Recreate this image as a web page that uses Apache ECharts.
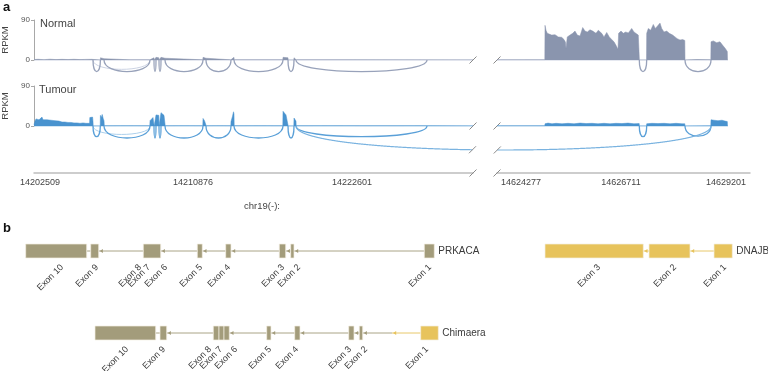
<!DOCTYPE html>
<html><head><meta charset="utf-8">
<script src="https://cdn.jsdelivr.net/npm/echarts@6/dist/echarts.min.js"></script>
<style>html,body{margin:0;padding:0;background:#fff}#chart{width:768px;height:371px}</style>
</head><body><div id="chart"></div>
<script>
// ================= DATA =================
// Panel a: track layout positions (two genomic windows separated by an axis break)
const trackRegions = [[34, 473], [497, 728]];
const breakPos = [473, 497];
const tickPositionsLeft = [40, 193, 352];
const tickLabelsLeft = ['14202509', '14210876', '14222601'];
const tickPositionsRight = [521, 621, 726];
const tickLabelsRight = ['14624277', '14626711', '14629201'];
const yTicks = [0, 90];

// coverage (position, RPKM)
const normalCovLeft = [[34,1],[38,1.6],[44,0.8],[50,1.8],[56,0.9],[62,1.5],[68,1],[74,1.6],[80,0.9],[86,1.4],[91.8,1.5],[92,4],[93,3],[93.2,0],
  [100.3,0],[100.5,5],[102,6],[104,3],[104.2,0.4],[130,0.4],[149.8,0.4],[150,4],[154,5],[154.2,0],[155.8,0],[156,6],[158.8,5],[159,0],[160.8,0],[161,6],[165,4],[165.2,0.4],
  [202.8,0.4],[203,6],[206,4],[206.2,0.4],[230.8,0.4],[231,4],[234,6],[234.2,0.4],[282.8,0.4],[283,6],[288,5],[288.2,0],[293.8,0],[294,5],[296,4],[296.2,0.4],[350,0.4],[473,0.4]];
const normalCovRight = [[497,0.3],[544.8,0.4],[545,78],[546,67],[547.3,60],[549.3,61],[551.7,56],[555,57],[558.3,52],[561.7,51],[564,46],[565.5,40],[566,26],[566.7,40],[567.3,52],
  [570,56],[572.7,60],[575,65],[577.3,56],[580,54],[582.7,73],[585,65],[587.3,63],[590,68],[592.7,65],[596,60],[598.3,67],[601.7,60],[604,52],[606.7,62],[609.3,52],
  [611.7,46],[614,41],[616,33],[618,24],[618.6,60],[621,65],[623.3,60],[625.7,63],[628.3,61],[631.7,71],[634,63],[636,60],[638.3,56],[639.2,55],[639.4,0],
  [646.5,0],[646.7,60],[648.3,71],[650.7,67],[653.3,80],[655.3,71],[657.3,76],[660,83],[661.7,71],[664,63],[666.7,65],[669.3,60],[672.7,56],[675,52],[677.3,48],[680,45],[682.7,46],[684.8,44],[685,0],
  [697,1],[710.8,0.5],[711,41],[713.3,43],[716.7,39],[720,41],[722.7,33],[725.3,26],[727.3,19],[727.5,0]];
const tumourCovLeft = [[34,3],[35,11],[36,16],[37,13],[38,19],[39,14],[40,18],[41,15],[42,20],[43,14],[44,17],[45,13],[47,14],[49,12],[51,13],[53,11],[55,12],[57,10],[59,11],
  [62,9],[65,9],[68,8],[71,8],[74,7],[77,7],[80,6],[83,7],[86,6],[89.6,6],[89.8,19],[90.8,22],[91.8,17],[92.6,20],[93,10],[93.2,0],
  [100.2,0],[100.4,24],[101.3,19],[102.2,26],[103.2,17],[104,12],[104.3,0.5],[127,0.6],[149.8,0.5],
  [150,12],[151.5,14],[153,19],[154,22],[154.2,0],[155.8,0],[156,25],[157.5,28],[158.8,24],[159,0],[160.8,0],[161,30],[162.5,27],[164,24],[165,20],[165.2,0.5],
  [185,0.6],[202.8,0.5],[203,17],[204.5,12],[206,8],[206.2,0.5],[220,0.6],[230.8,0.5],[231,10],[232.5,22],[233.5,32],[234,27],[234.2,0.5],
  [260,0.6],[282.8,0.5],[283,33],[284.5,29],[286,25],[288,21],[288.2,0],[293.8,0],[294,18],[295,14],[296,11],[296.2,0.5],[330,0.6],[380,0.5],[427,0.6],[473,0.5]];
const tumourCovRight = [[497,0.3],[544.8,0.4],[545,5],[548,6.5],[552,5],[556,6],[562,5],[568,6],[574,5],[580,6.5],[586,5.5],[592,6],[598,5],[604,6],[610,5],[616,6],[622,5.5],[628,6.5],[634,5],[639.2,5.5],[639.4,0],
  [646.5,0],[646.7,5],[652,6],[658,5.5],[664,6],[670,5],[676,6],[682,5],[684.8,5],[685,0],[710.8,0.3],[711,14],[714,13],[718,12],[722,13],[725,11],[727.3,10],[727.5,0]];

// splice junctions: [start, end, arc depth (RPKM units below baseline)]
const normalJunctions = [[93,100.4,26],[104,150,26],[154,156,26],[159,161,26],[165,203,26],[206,231,26],[234,283,26],[288,294,26],[296,427,26],[639.3,646.7,26],[685,711,26]];
const normalMinorJunctions = [[93,150,21]];
const tumourJunctions = [[93,100.3,24],[104,150,27],[154,156,27],[159,161,27],[165,203,27],[206,231,27],[234,283,27],[288,294,27],[296,427,24],[639.3,646.7,24],[685,711,23]];
const tumourMinorJunctions = [[93,150,19]];
const tumourFusionJunctions = [[296,711,54]];

// Panel b: gene models (layout position)
const prkacaExons = [[25.7,86.7],[90.7,98.7],[143.3,160.7],[197.3,202.3],[225.7,231.0],[279.3,285.7],[290.7,294.0],[424.3,434.3]];
const prkacaLabelNames = ['Exon 10','Exon 9','Exon 8','Exon 7','Exon 6','Exon 5','Exon 4','Exon 3','Exon 2','Exon 1'];
const prkacaLabelEnds = [65,100,143,152,169,204,232,286,302,433];
const dnajb1Exons = [[545,643.3],[649,690],[714,732.3]];
const dnajb1LabelNames = ['Exon 3','Exon 2','Exon 1'];
const dnajb1LabelEnds = [602,678,728];
const chimaeraExons = [[95,155.7],[160,166.7],[213.3,219],[219,224],[224,229.3],[266.7,271],[294.7,300],[348.7,354],[359.3,362.7],[420.7,438.3]];
const chimaeraExonSource = ['PRKACA','PRKACA','PRKACA','PRKACA','PRKACA','PRKACA','PRKACA','PRKACA','PRKACA','DNAJB1'];
const chimaeraLabelNames = ['Exon 10','Exon 9','Exon 8','Exon 7','Exon 6','Exon 5','Exon 4','Exon 3','Exon 2','Exon 1'];
const chimaeraLabelEnds = [130,167,213,224,239,273,300,353,369,430];
const chimaeraBreakpoint = 392;
const geneRows = {PRKACA: 1, DNAJB1: 1, Chimaera: 3};

// ================= STYLE =================
const FONT = "'Liberation Sans', Arial, Helvetica, sans-serif";
const C = {
  normal: '#8a95ae', normalArc: '#98a2ba', normalBase: '#cbd2e2', normalMinor: '#ccd3e3',
  tumour: '#4993cf', tumourArc: '#5aa0d8', tumourBase: '#a9cdea', tumourMinor: '#acd0ec',
  PRKACA: '#a39c7b', PRKACAintron: '#aaa486', DNAJB1: '#e7c35c', DNAJB1intron: '#e8c86a',
  slash: '#8a8a8a', text: '#3a3a3a'
};

function slash(x, y) {
  return {type: 'line', shape: {x1: x - 3.5, y1: y + 3.5, x2: x + 3.5, y2: y - 3.5}, style: {stroke: C.slash, lineWidth: 1}};
}

function baselineSeries(gi, color) {
  return {type: 'custom', xAxisIndex: gi, yAxisIndex: gi, clip: false, silent: true, z: 1, data: trackRegions,
    renderItem(params, api) {
      const a = api.coord([api.value(0), 0]), b = api.coord([api.value(1), 0]);
      const m = params.dataIndex === 0 ? b : a;
      return {type: 'group', children: [
        {type: 'line', shape: {x1: a[0], y1: a[1], x2: b[0], y2: b[1]}, style: {stroke: color, lineWidth: 1}},
        slash(m[0], m[1])
      ]};
    }};
}

function coverageSeries(gi, data, color) {
  return {type: 'line', xAxisIndex: gi, yAxisIndex: gi, data: data, symbol: 'none', silent: true, z: 2,
    lineStyle: {width: 0.5, color: color}, areaStyle: {color: color, opacity: 1}};
}

function arcSeries(gi, data, color, width) {
  return {type: 'custom', xAxisIndex: gi, yAxisIndex: gi, clip: false, silent: true, z: 3, data: data,
    renderItem(params, api) {
      const x1 = api.value(0), x2 = api.value(1), d = api.value(2);
      const p0 = api.coord([x1, 0]), p3 = api.coord([x2, 0]);
      const c1 = api.coord([x1, -d / 0.75]), c2 = api.coord([x2, -d / 0.75]);
      return {type: 'bezierCurve', shape: {x1: p0[0], y1: p0[1], x2: p3[0], y2: p3[1], cpx1: c1[0], cpy1: c1[1], cpx2: c2[0], cpy2: c2[1]},
        style: {stroke: color, fill: 'none', lineWidth: width}};
    }};
}

function fusionSeries(gi, data, color, width) {
  return {type: 'custom', xAxisIndex: gi, yAxisIndex: gi, clip: false, silent: true, z: 3, data: data,
    renderItem(params, api) {
      const x1 = api.value(0), x2 = api.value(1), d = api.value(2);
      const p0 = api.coord([x1, 0]), p3 = api.coord([x2, 0]);
      const cy = api.coord([x1, -d / 0.75])[1];
      const gL = api.coord([breakPos[0], 0])[0], gR = api.coord([breakPos[1], 0])[0];
      const N = 900, segs = [[]], marks = [];
      let inGap = false, prev = null;
      for (let i = 0; i <= N; i++) {
        const t = i / N, mt = 1 - t;
        const x = mt * mt * mt * p0[0] + 3 * mt * mt * t * p0[0] + 3 * mt * t * t * p3[0] + t * t * t * p3[0];
        const y = p0[1] * (mt * mt * mt + t * t * t) + cy * 3 * mt * t;
        const g = x > gL && x < gR;
        if (g && !inGap) { if (prev) marks.push(prev); inGap = true; segs.push([]); }
        else if (!g && inGap) { marks.push([x, y]); inGap = false; }
        if (!g) segs[segs.length - 1].push([x, y]);
        prev = [x, y];
      }
      const children = segs.filter(s => s.length > 1).map(s => ({type: 'polyline', shape: {points: s}, style: {stroke: color, fill: 'none', lineWidth: width}}));
      marks.forEach(m => children.push(slash(m[0], m[1])));
      return {type: 'group', children};
    }};
}

function axisSlashSeries(gi, pos) {
  return {type: 'custom', xAxisIndex: gi, yAxisIndex: gi, clip: false, silent: true, z: 5, data: [[pos, 0]],
    renderItem(params, api) { const p = api.coord([api.value(0), 0]); return slash(p[0], p[1]); }};
}

// ---- gene models ----
function buildGene(name, exons, sources, labelNames, labelEnds, breakpoint) {
  const row = geneRows[name];
  const exonData = exons.map((e, i) => [e[0], e[1], row, sources[i]]);
  const introns = [];
  for (let i = 0; i < exons.length - 1; i++) {
    const s = exons[i][1], e = exons[i + 1][0], sl = sources[i], sr = sources[i + 1];
    if (sl !== sr && breakpoint != null) {
      introns.push([s, breakpoint, row, sl]);
      introns.push([breakpoint, e, row, sr]);
    } else introns.push([s, e, row, sl]);
  }
  const labels = labelNames.map((n, i) => [labelEnds[i], row, n]);
  const last = exons[exons.length - 1];
  const title = [[last[1], row, name]];
  return {exonData, introns, labels, title};
}
const genes = [
  buildGene('PRKACA', prkacaExons, prkacaExons.map(() => 'PRKACA'), prkacaLabelNames, prkacaLabelEnds, null),
  buildGene('DNAJB1', dnajb1Exons, dnajb1Exons.map(() => 'DNAJB1'), dnajb1LabelNames, dnajb1LabelEnds, null),
  buildGene('Chimaera', chimaeraExons, chimaeraExonSource, chimaeraLabelNames, chimaeraLabelEnds, chimaeraBreakpoint)
];
const allExons = [].concat(...genes.map(g => g.exonData));
const allIntrons = [].concat(...genes.map(g => g.introns));
const allLabels = [].concat(...genes.map(g => g.labels));
const allTitles = [].concat(...genes.map(g => g.title));

const GI = 4;
const geneSeries = [
  {type: 'custom', xAxisIndex: GI, yAxisIndex: GI, clip: false, silent: true, z: 2, data: allIntrons,
    renderItem(params, api) {
      const it = allIntrons[params.dataIndex];
      const a = api.coord([it[0], it[2]]), b = api.coord([it[1], it[2]]);
      const col = C[it[3] + 'intron'];
      const ch = [{type: 'line', shape: {x1: a[0], y1: a[1], x2: b[0], y2: b[1]}, style: {stroke: col, lineWidth: 1}}];
      if (b[0] - a[0] > 4.5) {
        const x = a[0] + 1, y = a[1];
        ch.push({type: 'polygon', shape: {points: [[x, y], [x + 3.2, y - 2], [x + 3.2, y + 2]]}, style: {fill: C[it[3]]}});
      }
      return {type: 'group', children: ch};
    }},
  {type: 'custom', xAxisIndex: GI, yAxisIndex: GI, clip: false, silent: true, z: 3, data: allExons,
    renderItem(params, api) {
      const ex = allExons[params.dataIndex];
      const a = api.coord([ex[0], ex[2]]), b = api.coord([ex[1], ex[2]]);
      return {type: 'rect', shape: {x: a[0], y: a[1] - 7, width: b[0] - a[0], height: 14},
        style: {fill: C[ex[3]], stroke: '#f3efe2', lineWidth: 0.7}};
    }},
  {type: 'custom', xAxisIndex: GI, yAxisIndex: GI, clip: false, silent: true, z: 4, data: allLabels,
    renderItem(params, api) {
      const lb = allLabels[params.dataIndex];
      const p = api.coord([lb[0], lb[1]]);
      return {type: 'text', x: p[0] - 3, y: p[1] + 15, rotation: Math.PI / 4,
        style: {text: lb[2], fill: C.text, font: '9px ' + FONT, align: 'right', verticalAlign: 'middle'}};
    }},
  {type: 'custom', xAxisIndex: GI, yAxisIndex: GI, clip: false, silent: true, z: 4, data: allTitles,
    renderItem(params, api) {
      const t = allTitles[params.dataIndex];
      const p = api.coord([t[0], t[1]]);
      return {type: 'text', x: p[0] + 4, y: p[1],
        style: {text: t[2], fill: C.text, font: '10px ' + FONT, align: 'left', verticalAlign: 'middle'}};
    }}
];

// ================= CHART =================
const yTrackAxis = (gi) => ({gridIndex: gi, type: 'value', min: yTicks[0], max: yTicks[1], interval: yTicks[1] - yTicks[0],
  axisLine: {show: true, lineStyle: {color: '#a8a8a8', width: 1}},
  axisTick: {show: true, length: 3, lineStyle: {color: '#a8a8a8'}},
  axisLabel: {fontSize: 8, color: '#555', margin: 4, fontFamily: FONT},
  splitLine: {show: false},
  name: 'RPKM', nameLocation: 'middle', nameGap: 19, nameRotate: 90,
  nameTextStyle: {fontSize: 9.5, color: '#444', fontFamily: FONT}});
const hiddenY = (gi, min, max, inverse) => ({gridIndex: gi, type: 'value', min, max, inverse: !!inverse, show: false, splitLine: {show: false}});
const bottomAxis = (gi, min, max, pos, labels) => ({gridIndex: gi, type: 'value', min, max, position: 'bottom',
  axisLine: {show: true, lineStyle: {color: '#bdbdbd', width: 1.5}}, axisTick: {show: false}, splitLine: {show: false},
  axisLabel: {customValues: pos, formatter: v => labels[pos.indexOf(v)] || '', fontSize: 9, color: '#444', margin: 5, fontFamily: FONT,
    showMinLabel: true, showMaxLabel: true}});

const option = {
  animation: false,
  grid: [
    {left: 34, right: 18, top: 20, height: 40, outerBoundsMode: 'none'},
    {left: 34, right: 18, top: 86, height: 40, outerBoundsMode: 'none'},
    {left: 34, width: 439, top: 163, height: 10, outerBoundsMode: 'none'},
    {left: 497, right: 18, top: 163, height: 10, outerBoundsMode: 'none'},
    {left: 0, right: 0, top: 210, height: 164, outerBoundsMode: 'none'}
  ],
  xAxis: [
    {gridIndex: 0, type: 'value', min: 34, max: 750, show: false, splitLine: {show: false}},
    {gridIndex: 1, type: 'value', min: 34, max: 750, show: false, splitLine: {show: false}},
    bottomAxis(2, trackRegions[0][0], breakPos[0], tickPositionsLeft, tickLabelsLeft),
    bottomAxis(3, breakPos[1], 750, tickPositionsRight, tickLabelsRight),
    {gridIndex: 4, type: 'value', min: 0, max: 768, show: false, splitLine: {show: false}}
  ],
  yAxis: [yTrackAxis(0), yTrackAxis(1), hiddenY(2, 0, 1), hiddenY(3, 0, 1), hiddenY(4, 0, 4, true)],
  graphic: [
    {type: 'text', left: 3, top: 1, style: {text: 'a', font: 'bold 13px ' + FONT, fill: '#111'}},
    {type: 'text', left: 3, top: 222, style: {text: 'b', font: 'bold 13px ' + FONT, fill: '#111'}},
    {type: 'text', x: 40, y: 24, style: {text: 'Normal', font: '11px ' + FONT, fill: '#444', verticalAlign: 'middle'}},
    {type: 'text', x: 39, y: 90, style: {text: 'Tumour', font: '11px ' + FONT, fill: '#444', verticalAlign: 'middle'}},
    {type: 'text', x: 262, y: 206, style: {text: 'chr19(-):', font: '9.5px ' + FONT, fill: '#444', align: 'center', verticalAlign: 'middle'}}
  ],
  series: [
    baselineSeries(0, C.normalBase),
    coverageSeries(0, normalCovLeft, C.normal),
    coverageSeries(0, normalCovRight, C.normal),
    arcSeries(0, normalMinorJunctions, C.normalMinor, 1),
    arcSeries(0, normalJunctions, C.normalArc, 1.3),
    baselineSeries(1, C.tumourBase),
    coverageSeries(1, tumourCovLeft, C.tumour),
    coverageSeries(1, tumourCovRight, C.tumour),
    arcSeries(1, tumourMinorJunctions, C.tumourMinor, 1),
    arcSeries(1, tumourJunctions, C.tumourArc, 1.3),
    fusionSeries(1, tumourFusionJunctions, '#7ab3e0', 1.2),
    axisSlashSeries(2, breakPos[0]),
    axisSlashSeries(3, breakPos[1]),
    ...geneSeries
  ]
};
const chart = echarts.init(document.getElementById('chart'));
chart.setOption(option);
</script></body></html>
